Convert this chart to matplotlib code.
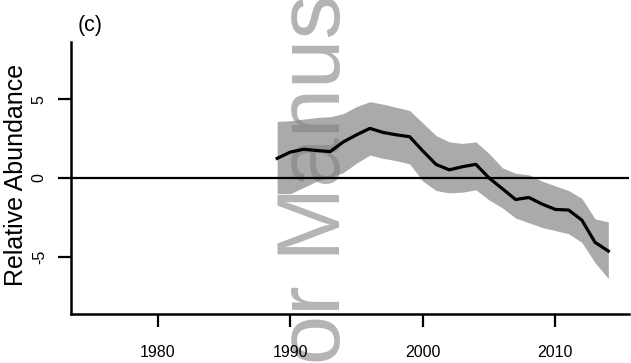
import matplotlib
matplotlib.use("Agg")
import matplotlib.pyplot as plt

plt.rcParams['font.family'] = ['Liberation Sans', 'DejaVu Sans']

years = list(range(1989, 2015))
abundance = [1.25, 1.65, 1.83, 1.75, 1.68, 2.30, 2.75, 3.16, 2.90, 2.75,
             2.63, 1.72, 0.86, 0.52, 0.72, 0.87, 0.00, -0.68, -1.37, -1.24,
             -1.66, -2.00, -2.04, -2.68, -4.10, -4.65]
upper = [3.60, 3.65, 3.75, 3.85, 3.90, 4.10, 4.55, 4.86, 4.70, 4.50,
         4.30, 3.50, 2.70, 2.30, 2.20, 2.30, 1.55, 0.65, 0.30, 0.20,
         -0.20, -0.50, -0.80, -1.30, -2.60, -2.80]
lower = [-1.00, -1.00, -0.60, -0.20, 0.05, 0.35, 0.95, 1.46, 1.25, 1.10,
         0.90, -0.20, -0.80, -0.95, -0.90, -0.75, -1.40, -1.90, -2.55, -2.85,
         -3.15, -3.35, -3.55, -4.10, -5.40, -6.40]
x_ticks = [1980, 1990, 2000, 2010]
y_ticks = [-5, 0, 5]

W, H = 631, 363
fig = plt.figure(figsize=(W / 100, H / 100), dpi=100)
ax = fig.add_axes([71 / W, 49 / H, 558 / W, 272 / H])
ax.patch.set_visible(False)

# faint background stamp, drawn beneath the data
fig.text(340 / W, 1 - 187 / H, "Author Manuscript", rotation=90,
         rotation_mode='anchor', ha='center', va='baseline',
         fontsize=64, color='#b4b4b4', zorder=-5)

ax.fill_between(years, lower, upper, color='#7f7f7f', alpha=0.66,
                linewidth=0, zorder=1)
ax.axhline(0, color='black', linewidth=1.6, zorder=2)
ax.plot(years, abundance, color='black', linewidth=2.3, zorder=3,
        solid_joinstyle='round')

ax.set_xlim(1973.44, 2015.56)
ax.set_ylim(-8.66, 8.66)
ax.set_xticks(x_ticks)
ax.set_yticks(y_ticks)
ax.set_yticklabels([str(v) for v in y_ticks], rotation=90, va='center')

for side in ('top', 'right'):
    ax.spines[side].set_visible(False)
for side in ('left', 'bottom'):
    ax.spines[side].set_linewidth(1.8)

ax.tick_params(axis='both', direction='out', length=9.4, width=1.6,
               labelsize=11.5, colors='black')
ax.tick_params(axis='x', pad=13)
ax.tick_params(axis='y', pad=8)

fig.text(23 / W, 1 - 175 / H, "Relative Abundance", rotation=90,
         rotation_mode='anchor', ha='center', va='baseline', fontsize=18)
fig.text(78 / W, 1 - 25 / H, "(c)", ha='left', va='center', fontsize=15.5)

fig.savefig("out.png", dpi=100)
